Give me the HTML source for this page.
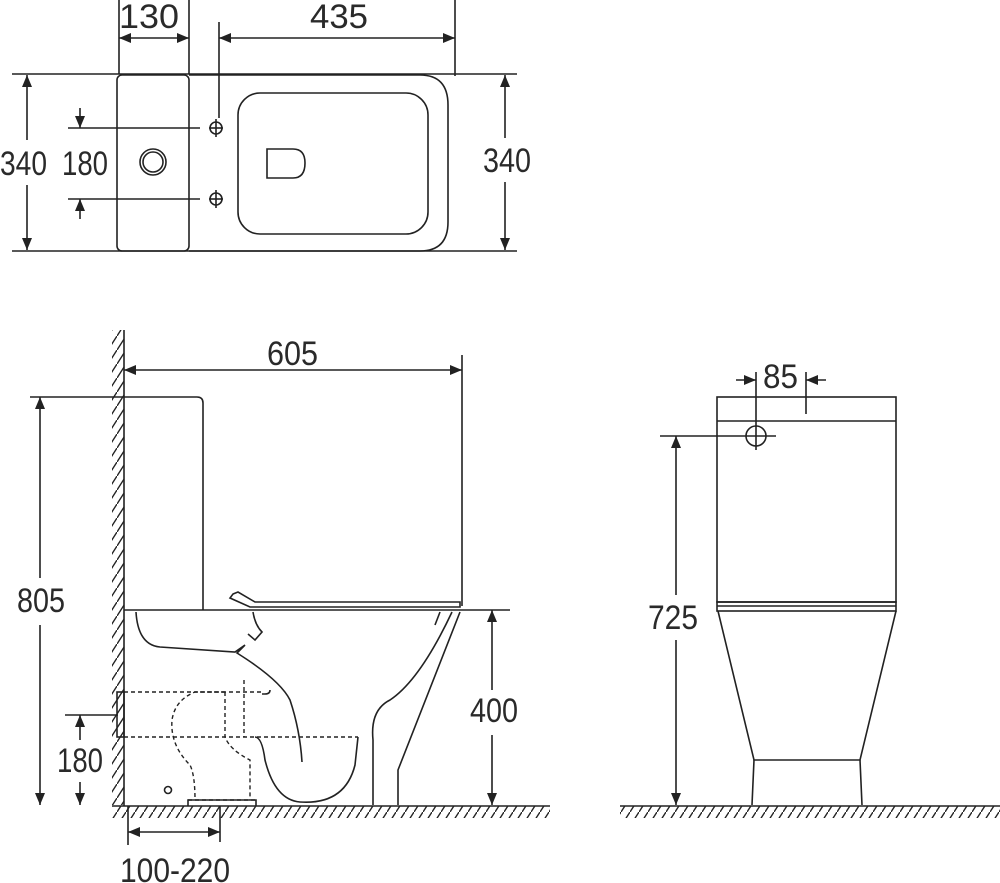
<!DOCTYPE html>
<html><head><meta charset="utf-8"><style>html,body{margin:0;padding:0;background:#fff}svg{display:block}text{font-family:"Liberation Sans",sans-serif;font-size:34px;fill:#2a2a2a}</style></head>
<body>
<svg width="1000" height="883" viewBox="0 0 1000 883" xmlns="http://www.w3.org/2000/svg">
<defs>
<pattern id="hf" width="9" height="14" patternUnits="userSpaceOnUse"><path d="M0 14 L9 0" stroke="#222" stroke-width="1.4"/></pattern>
<marker id="a" viewBox="0 0 12 10" refX="12" refY="5" markerWidth="13" markerHeight="10" markerUnits="userSpaceOnUse" orient="auto-start-reverse"><path d="M0 0 L12 5 L0 10z" fill="#222"/></marker>
</defs>
<g fill="none" stroke="#222" stroke-width="1.6">
<!-- TOP VIEW -->
<line x1="12" y1="74" x2="517" y2="74"/><line x1="12" y1="251" x2="517" y2="251"/>
<line x1="119" y1="0" x2="119" y2="74"/><line x1="189" y1="0" x2="189" y2="74"/>
<line x1="219" y1="22" x2="219" y2="118"/><line x1="455" y1="0" x2="455" y2="76"/>
<line x1="119" y1="38" x2="189" y2="38" marker-start="url(#a)" marker-end="url(#a)"/>
<line x1="219" y1="38" x2="455" y2="38" marker-start="url(#a)" marker-end="url(#a)"/>
<rect x="117" y="75" width="72" height="176" rx="5"/>
<path d="M189 75 H420 Q448 75 448 105 V222 Q448 251 420 251 H189"/>
<rect x="238" y="93" width="190" height="141" rx="22"/>
<path d="M267 149 H293 Q305 149 305 163 Q305 178 293 178 H267 Z"/>
<circle cx="153" cy="162" r="13"/><circle cx="153" cy="162" r="10"/>
<line x1="68" y1="128" x2="200" y2="128"/><line x1="68" y1="199" x2="200" y2="199"/>
<line x1="80" y1="108" x2="80" y2="128" marker-end="url(#a)"/><line x1="80" y1="219" x2="80" y2="199" marker-end="url(#a)"/>
<circle cx="216" cy="128" r="6"/><line x1="216" y1="119" x2="216" y2="137"/><line x1="209" y1="128" x2="223" y2="128"/>
<circle cx="216" cy="199" r="6"/><line x1="216" y1="190" x2="216" y2="208"/><line x1="209" y1="199" x2="223" y2="199"/>
<line x1="27" y1="75" x2="27" y2="140" marker-start="url(#a)"/><line x1="27" y1="185" x2="27" y2="250" marker-end="url(#a)"/>
<line x1="505" y1="75" x2="505" y2="138" marker-start="url(#a)"/><line x1="505" y1="182" x2="505" y2="250" marker-end="url(#a)"/>

<!-- SIDE VIEW -->
<rect x="112" y="330" width="12" height="475" fill="url(#hf)" stroke="none"/>
<line x1="124" y1="330" x2="124" y2="806"/>
<rect x="112" y="806" width="438" height="12" fill="url(#hf)" stroke="none"/>
<line x1="112" y1="806" x2="550" y2="806"/>
<line x1="124" y1="610" x2="510" y2="610"/>
<line x1="30" y1="397" x2="124" y2="397"/>
<line x1="462" y1="355" x2="462" y2="606"/>
<line x1="124" y1="370" x2="462" y2="370" marker-start="url(#a)" marker-end="url(#a)"/>
<path d="M124 397 H197 Q203 397 203 403 V610"/>
<path d="M233 594 L238 592 L255 602 H460 V607 H250 L230 598 Z"/>
<path d="M136 612 Q138 645 160 647 L235 652 L245 645 L237 653 Q280 680 290 700 Q300 730 302 762"/>
<path d="M253 612 Q255 625 262 632 L255 640 L248 634"/>
<path d="M452 612 Q420 680 390 700 Q370 710 373 740 V805"/>
<path d="M440 612 L435 625"/>
<path d="M460 612 L398 770 V805"/>
<path d="M262 694 H265 Q270 694 270 690"/>
<path d="M255 737 Q262 737 265 760 Q275 800 300 802 Q345 805 355 765 L358 737"/>
<g stroke-dasharray="4 3" stroke-width="1.4">
<path d="M124 692 H263"/><path d="M124 737 H358"/>
<path d="M225 692 H195 Q175 700 172 720 Q170 745 190 765 Q195 775 195 800"/>
<path d="M244 680 V737"/><path d="M225 692 V737 Q230 750 250 760 V800"/>
<path d="M188 800 H256"/>
</g>
<rect x="117" y="692" width="7" height="45"/>
<circle cx="168" cy="790" r="3.5"/>
<path d="M188 806 V800 H256 V806"/>
<line x1="65" y1="715" x2="118" y2="715"/>
<line x1="80" y1="740" x2="80" y2="715" marker-end="url(#a)"/>
<line x1="80" y1="782" x2="80" y2="805" marker-end="url(#a)"/>
<line x1="40" y1="397" x2="40" y2="578" marker-start="url(#a)"/><line x1="40" y1="625" x2="40" y2="805" marker-end="url(#a)"/>
<line x1="492" y1="610" x2="492" y2="690" marker-start="url(#a)"/><line x1="492" y1="735" x2="492" y2="805" marker-end="url(#a)"/>
<line x1="128" y1="806" x2="128" y2="845"/><line x1="220" y1="806" x2="220" y2="842"/>
<line x1="128" y1="832" x2="220" y2="832" marker-start="url(#a)" marker-end="url(#a)"/>

<!-- FRONT VIEW -->
<rect x="620" y="806" width="380" height="12" fill="url(#hf)" stroke="none"/>
<line x1="620" y1="806" x2="1000" y2="806"/>
<rect x="717" y="397" width="179" height="205"/>
<line x1="717" y1="421" x2="896" y2="421"/>
<rect x="717" y="602" width="179" height="9"/>
<line x1="717" y1="606" x2="896" y2="606"/>
<circle cx="756" cy="436" r="10"/>
<line x1="756" y1="372" x2="756" y2="450"/>
<line x1="806" y1="372" x2="806" y2="414"/>
<line x1="736" y1="380" x2="756" y2="380" marker-end="url(#a)"/>
<line x1="826" y1="380" x2="806" y2="380" marker-end="url(#a)"/>
<line x1="660" y1="436" x2="776" y2="436"/>
<line x1="676" y1="436" x2="676" y2="595" marker-start="url(#a)"/><line x1="676" y1="640" x2="676" y2="805" marker-end="url(#a)"/>
<path d="M718 611 L754 760 H860 L896 611"/>
<path d="M754 760 L752 805 M860 760 L862 805"/>
</g>
<g>
<text x="119" y="28" textLength="60" lengthAdjust="spacingAndGlyphs">130</text>
<text x="310" y="28" textLength="58" lengthAdjust="spacingAndGlyphs">435</text>
<text x="0" y="175" textLength="47" lengthAdjust="spacingAndGlyphs">340</text>
<text x="62" y="175" textLength="46" lengthAdjust="spacingAndGlyphs">180</text>
<text x="483" y="172" textLength="48" lengthAdjust="spacingAndGlyphs">340</text>
<text x="267" y="365" textLength="51" lengthAdjust="spacingAndGlyphs">605</text>
<text x="17" y="612" textLength="48" lengthAdjust="spacingAndGlyphs">805</text>
<text x="470" y="722" textLength="48" lengthAdjust="spacingAndGlyphs">400</text>
<text x="57" y="772" textLength="46" lengthAdjust="spacingAndGlyphs">180</text>
<text x="120" y="882" textLength="110" lengthAdjust="spacingAndGlyphs">100-220</text>
<text x="763" y="388" textLength="35" lengthAdjust="spacingAndGlyphs">85</text>
<text x="648" y="629" textLength="50" lengthAdjust="spacingAndGlyphs">725</text>
</g>
</svg>
</body></html>
